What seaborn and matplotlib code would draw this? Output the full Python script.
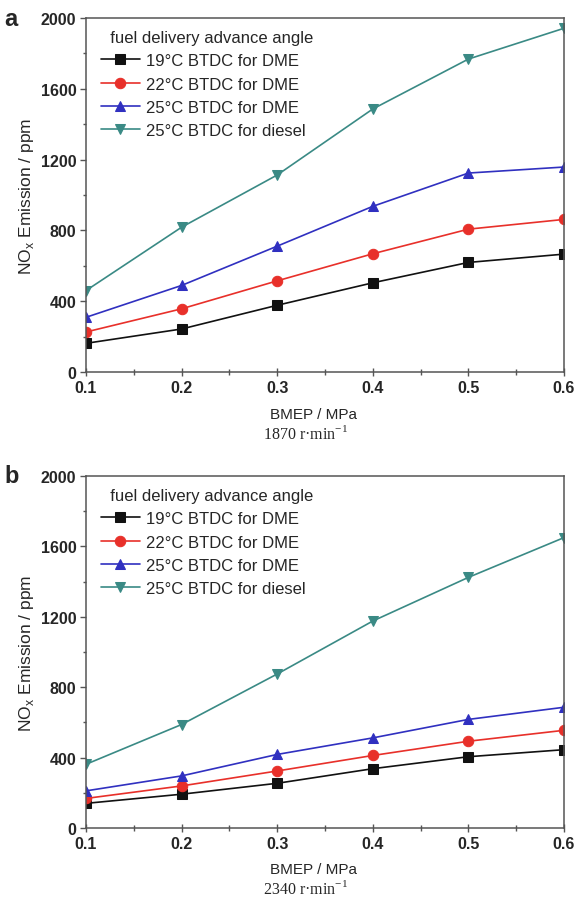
import matplotlib
matplotlib.use("Agg")
import matplotlib.pyplot as plt
import seaborn as sns
import pandas as pd
from matplotlib.ticker import MultipleLocator

sns.set_style("ticks")
plt.rcParams['font.family'] = ['Liberation Sans', 'DejaVu Sans']

bmep = [0.1, 0.2, 0.3, 0.4, 0.5, 0.6]
series_labels = ["19\u00b0C BTDC for DME", "22\u00b0C BTDC for DME",
                 "25\u00b0C BTDC for DME", "25\u00b0C BTDC for diesel"]

# panel a: 1870 r/min
a_19_dme = [162, 243, 377, 504, 619, 666]
a_22_dme = [226, 357, 515, 668, 807, 862]
a_25_dme = [309, 489, 711, 936, 1124, 1158]
a_25_diesel = [460, 818, 1113, 1486, 1768, 1942]

# panel b: 2340 r/min
b_19_dme = [140, 192, 254, 337, 405, 445]
b_22_dme = [168, 239, 324, 412, 493, 555]
b_25_dme = [211, 296, 418, 512, 617, 686]
b_25_diesel = [362, 588, 875, 1176, 1424, 1650]

colors = ["#111111", "#e8302a", "#3030c0", "#3a8a85"]
markers = ["s", "o", "^", "v"]

fig = plt.figure(figsize=(5.79, 9.04), dpi=100)
ax1 = fig.add_axes([86/579, 1-373/904, 478/579, 354/904])
ax2 = fig.add_axes([86/579, 1-829/904, 478/579, 352/904])

panels = [
    (ax1, [a_19_dme, a_22_dme, a_25_dme, a_25_diesel], "a", "1870 r\u00b7min$^{\\mathregular{-1}}$", 434),
    (ax2, [b_19_dme, b_22_dme, b_25_dme, b_25_diesel], "b", "2340 r\u00b7min$^{\\mathregular{-1}}$", 889),
]

for ax, data, letter, speed, speed_y in panels:
    for vals, lab, c, m in zip(data, series_labels, colors, markers):
        df = pd.DataFrame({"x": bmep, "y": vals})
        sns.lineplot(data=df, x="x", y="y", ax=ax, color=c, marker=m,
                     markersize=7.5, markeredgecolor=c, linewidth=1.2, label=lab)
    ax.set_xlim(0.1, 0.6)
    ax.set_ylim(0, 2000)
    ax.xaxis.set_minor_locator(MultipleLocator(0.05))
    ax.yaxis.set_major_locator(MultipleLocator(400))
    ax.yaxis.set_minor_locator(MultipleLocator(200))
    ax.set_xticks(bmep)
    ax.set_xticklabels(["0.1", "0.2", "0.3", "0.4", "0.5", "0.6"])
    ax.tick_params(axis="both", which="major", direction="out", length=4, width=1,
                   color="#555555", labelsize=11.5, pad=3)
    ax.tick_params(axis="both", which="minor", direction="out", length=2.5, width=1,
                   color="#555555")
    ax.tick_params(axis="x", which="major", direction="inout", length=6)
    ax.tick_params(axis="x", which="minor", direction="inout", length=4)
    for lbl in ax.get_xticklabels() + ax.get_yticklabels():
        lbl.set_fontweight("bold")
    for sp in ax.spines.values():
        sp.set_visible(True)
        sp.set_color("#555555")
        sp.set_linewidth(1.1)
    ax.set_xlabel("BMEP / MPa", fontsize=11)
    ax.xaxis.set_label_coords(0.475, -0.098)
    ax.set_ylabel("NO$_{\\mathregular{x}}$ Emission / ppm", fontsize=12.5)
    ax.yaxis.set_label_coords(-0.105, 0.5)
    fig.text(305/579, 1-speed_y/904, speed, ha="center", va="center",
             fontsize=11.5, family=["Liberation Serif", "DejaVu Serif"])
    ax.text(-0.17, 1.0, letter, transform=ax.transAxes, ha="left", va="center",
            fontsize=17, fontweight="bold")
    leg = ax.legend(title="  fuel delivery advance angle", loc="upper left",
                    bbox_to_anchor=(0.018, 0.985), frameon=False, fontsize=12,
                    title_fontsize=12, handlelength=2.3, handletextpad=0.4,
                    labelspacing=0.5, borderaxespad=0)
    leg._legend_box.align = "left"

fig.savefig("out.png", dpi=100)
